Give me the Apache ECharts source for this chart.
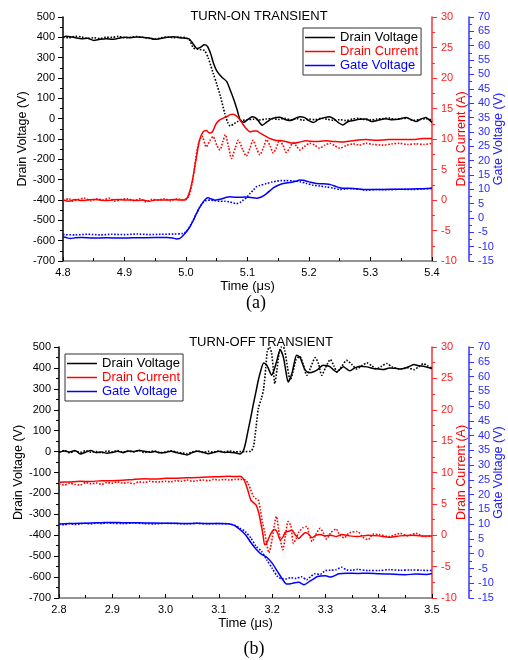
<!DOCTYPE html>
<html>
<head>
<meta charset="utf-8">
<script src="https://cdn.jsdelivr.net/npm/echarts@6/dist/echarts.min.js"></script>
<style>
html,body{margin:0;padding:0;background:#fff;}
#c{width:508px;height:660px;}
</style>
</head>
<body>
<div id="c"></div>
<script>
// ---------- (a) TURN-ON TRANSIENT data: [time (us), value] ----------
const onVdSolid = [[4.8,400],[4.805,405],[4.812,403],[4.82,398],[4.83,393],[4.84,395],[4.85,385],[4.86,390],[4.87,393],[4.88,390],[4.89,395],[4.9,400],[4.91,398],[4.92,402],[4.93,400],[4.94,397],[4.95,390],[4.96,395],[4.97,400],[4.98,403],[4.99,398],[5.0,395],[5.005,393],[5.01,375],[5.018,345],[5.024,352],[5.03,363],[5.035,355],[5.04,320],[5.045,270],[5.05,235],[5.058,205],[5.066,183],[5.072,140],[5.078,92],[5.083,45],[5.088,-5],[5.094,-18],[5.1,-5],[5.108,10],[5.115,0],[5.124,-32],[5.132,-15],[5.14,0],[5.152,7],[5.162,-5],[5.17,-9],[5.18,5],[5.186,10],[5.193,5],[5.2,-10],[5.207,-19],[5.215,-5],[5.225,5],[5.233,10],[5.24,0],[5.248,-20],[5.255,-31],[5.263,-15],[5.272,-9],[5.282,-3],[5.293,-2],[5.302,-14],[5.312,-8],[5.325,0],[5.335,-5],[5.345,-3],[5.358,6],[5.366,-5],[5.374,-14],[5.382,-2],[5.39,6],[5.395,-5],[5.4,-19]];
const onVdDot = [[4.8,400],[4.81,398],[4.82,405],[4.83,402],[4.84,395],[4.85,398],[4.86,394],[4.87,400],[4.88,400],[4.89,405],[4.9,398],[4.91,401],[4.92,404],[4.93,400],[4.94,395],[4.95,392],[4.96,398],[4.97,402],[4.98,398],[4.99,400],[5.0,398],[5.006,385],[5.012,348],[5.022,340],[5.03,335],[5.036,300],[5.044,225],[5.05,170],[5.056,110],[5.063,26],[5.068,-20],[5.072,-36],[5.078,-25],[5.084,-14],[5.092,-8],[5.1,-5],[5.11,-3],[5.12,-6],[5.13,-2],[5.14,0],[5.15,-4],[5.16,2],[5.17,-6],[5.18,0],[5.19,-8],[5.2,-2],[5.21,-5],[5.22,2],[5.23,-3],[5.24,-8],[5.25,-5],[5.26,-9],[5.27,-2],[5.28,2],[5.29,-4],[5.3,-6],[5.31,-2],[5.32,0],[5.33,3],[5.34,-3],[5.35,0],[5.36,2],[5.37,-8],[5.38,-4],[5.39,0],[5.4,-6]];
const onIdSolid = [[4.8,0],[4.81,-0.2],[4.82,0.1],[4.83,-0.1],[4.84,0],[4.85,0.1],[4.86,0],[4.87,-0.1],[4.88,0],[4.89,0.1],[4.9,0],[4.91,0],[4.92,-0.1],[4.93,0],[4.94,-0.2],[4.95,0],[4.96,0],[4.97,0],[4.98,0.1],[4.99,0],[4.998,0],[5.004,0.8],[5.01,3],[5.016,6.5],[5.022,9.8],[5.028,11.2],[5.033,11.4],[5.038,11],[5.043,11.2],[5.049,12.5],[5.056,13.2],[5.065,13.6],[5.072,14],[5.077,14.05],[5.084,13.6],[5.09,12.8],[5.097,11.8],[5.104,11.2],[5.11,11.3],[5.115,11.3],[5.12,11],[5.127,10.6],[5.136,10.1],[5.145,9.8],[5.155,9.7],[5.165,9.5],[5.174,9.3],[5.185,9.5],[5.195,9.7],[5.21,9.6],[5.228,9.7],[5.24,9.6],[5.255,9.5],[5.27,9.7],[5.293,9.9],[5.31,9.8],[5.33,9.9],[5.347,9.9],[5.37,9.9],[5.385,10.1],[5.4,10.1]];
const onIdDot = [[4.8,0],[4.81,0.2],[4.815,-0.2],[4.825,0.1],[4.835,0.3],[4.845,-0.1],[4.855,0.2],[4.865,0],[4.875,0.3],[4.885,-0.2],[4.895,0.1],[4.905,0.2],[4.915,-0.1],[4.925,0.2],[4.935,-0.3],[4.945,0.1],[4.955,0],[4.965,0.2],[4.975,-0.1],[4.985,0.2],[4.995,0],[5.004,0.5],[5.011,3.3],[5.019,8.7],[5.026,10.5],[5.033,8.7],[5.039,9.8],[5.044,10.4],[5.05,9],[5.055,8.2],[5.06,9.6],[5.064,10.7],[5.069,8.8],[5.074,6.8],[5.08,8.5],[5.085,9.8],[5.092,8.3],[5.098,7.2],[5.104,8.5],[5.109,9.8],[5.115,8.4],[5.12,7.4],[5.126,8.6],[5.131,9.9],[5.137,8.8],[5.142,7.7],[5.147,8.6],[5.152,9.8],[5.158,8.9],[5.163,7.8],[5.169,8.6],[5.174,9.4],[5.18,8.8],[5.185,8.2],[5.193,8.8],[5.201,9.3],[5.209,9],[5.217,8.5],[5.226,9],[5.234,9.3],[5.242,8.9],[5.25,8.5],[5.26,8.9],[5.272,9.2],[5.282,9],[5.293,9.3],[5.305,9.1],[5.32,9],[5.335,9.2],[5.347,9.3],[5.36,9.1],[5.374,9.2],[5.387,9.1],[5.4,9.3]];
const onVgSolid = [[4.8,-6.6],[4.805,-6.8],[4.812,-7.2],[4.82,-6.9],[4.83,-6.8],[4.85,-7],[4.87,-6.9],[4.9,-7],[4.92,-6.9],[4.95,-6.8],[4.97,-6.8],[4.978,-7],[4.985,-7.3],[4.99,-7.1],[4.995,-6.2],[5.0,-5],[5.006,-3.2],[5.012,-0.8],[5.017,1.5],[5.022,3.6],[5.028,5.6],[5.032,6.6],[5.036,7],[5.041,6.6],[5.047,6.2],[5.053,6.4],[5.06,6.8],[5.066,7.2],[5.071,7.4],[5.08,7.2],[5.087,7.2],[5.095,7.3],[5.102,7.2],[5.109,7],[5.115,6.9],[5.12,7.1],[5.125,7.6],[5.131,8.5],[5.137,9.6],[5.142,10.5],[5.15,11.4],[5.158,12],[5.166,12.3],[5.174,12.5],[5.18,12.9],[5.185,13.2],[5.19,13.1],[5.195,12.9],[5.203,12.4],[5.212,12],[5.22,11.9],[5.228,11.8],[5.235,11.6],[5.242,11.1],[5.25,10.5],[5.258,10.3],[5.266,10.3],[5.28,10.1],[5.293,9.9],[5.31,9.9],[5.33,10],[5.347,10],[5.37,10.1],[5.385,10.2],[5.4,10.3]];
const onVgDot = [[4.8,-5.8],[4.82,-5.9],[4.84,-5.7],[4.86,-5.9],[4.88,-5.7],[4.9,-5.8],[4.92,-5.6],[4.94,-5.8],[4.96,-5.7],[4.98,-5.6],[4.995,-5.4],[5.0,-4.8],[5.006,-3],[5.012,-0.6],[5.017,1.5],[5.022,3.6],[5.028,5.4],[5.033,6.1],[5.04,6.2],[5.048,6],[5.055,5.8],[5.063,5.8],[5.071,5.6],[5.077,5.2],[5.082,5],[5.088,5.4],[5.093,6.2],[5.099,7.2],[5.104,8.5],[5.11,9.8],[5.114,10.8],[5.12,11.3],[5.131,12],[5.14,12.5],[5.147,12.8],[5.155,13],[5.163,13],[5.174,12.9],[5.185,12.6],[5.195,12.1],[5.207,11.4],[5.218,11.1],[5.228,10.8],[5.24,10.4],[5.25,9.9],[5.26,10.1],[5.272,10.2],[5.285,9.9],[5.293,9.7],[5.31,9.9],[5.33,9.8],[5.347,10],[5.37,9.9],[5.385,10.1],[5.4,10.3]];

// ---------- (b) TURN-OFF TRANSIENT data ----------
const offVdSolid = [[2.8,-4],[2.81,3],[2.82,-2],[2.83,5],[2.84,-11],[2.85,-3],[2.86,5],[2.87,-5],[2.88,-2],[2.89,-8],[2.9,-4],[2.91,2],[2.92,-5],[2.93,3],[2.94,0],[2.95,5],[2.96,2],[2.97,-3],[2.98,0],[2.99,-6],[3.0,-4],[3.01,2],[3.02,-5],[3.03,-10],[3.04,-16],[3.05,-5],[3.06,2],[3.07,-3],[3.08,-10],[3.09,-5],[3.1,2],[3.11,-4],[3.12,-3],[3.13,-6],[3.14,-11],[3.146,5],[3.15,40],[3.155,103],[3.16,165],[3.165,230],[3.17,290],[3.174,341],[3.179,390],[3.184,424],[3.19,413],[3.195,385],[3.199,365],[3.204,392],[3.209,436],[3.215,487],[3.221,452],[3.226,380],[3.23,333],[3.237,372],[3.242,430],[3.246,460],[3.252,452],[3.257,420],[3.262,389],[3.271,377],[3.278,382],[3.284,389],[3.296,413],[3.303,410],[3.309,405],[3.315,390],[3.321,381],[3.328,395],[3.334,405],[3.34,395],[3.346,386],[3.355,400],[3.365,408],[3.378,405],[3.39,397],[3.4,395],[3.409,392],[3.42,400],[3.43,398],[3.44,395],[3.45,400],[3.46,410],[3.466,416],[3.475,410],[3.484,408],[3.49,404],[3.5,397]];
const offVdDot = [[2.8,-2],[2.81,5],[2.82,-6],[2.83,2],[2.84,-4],[2.85,4],[2.86,-3],[2.87,0],[2.88,-6],[2.89,3],[2.9,-1],[2.91,5],[2.92,-3],[2.93,2],[2.94,-2],[2.95,6],[2.96,-4],[2.97,0],[2.98,3],[2.99,-5],[3.0,-1],[3.01,4],[3.02,-2],[3.03,-6],[3.04,-10],[3.05,-2],[3.06,3],[3.07,-4],[3.08,1],[3.09,-3],[3.1,2],[3.11,-2],[3.12,3],[3.13,-1],[3.14,0],[3.15,0],[3.16,2],[3.165,24],[3.17,120],[3.174,205],[3.18,255],[3.184,300],[3.188,400],[3.191,480],[3.195,500],[3.199,470],[3.202,400],[3.205,325],[3.209,390],[3.213,470],[3.217,500],[3.221,500],[3.224,480],[3.229,400],[3.234,341],[3.239,380],[3.245,440],[3.252,455],[3.258,420],[3.265,365],[3.272,400],[3.281,449],[3.287,420],[3.293,365],[3.3,400],[3.309,440],[3.316,410],[3.322,380],[3.33,405],[3.34,436],[3.35,415],[3.359,395],[3.368,410],[3.378,424],[3.387,410],[3.396,395],[3.405,408],[3.415,421],[3.425,405],[3.44,395],[3.455,400],[3.466,392],[3.475,405],[3.484,420],[3.492,410],[3.5,397]];
const offIdSolid = [[2.8,8.44],[2.82,8.5],[2.84,8.6],[2.86,8.55],[2.88,8.7],[2.9,8.7],[2.92,8.75],[2.94,8.9],[2.96,9],[2.98,8.95],[3.0,9.07],[3.02,9.1],[3.04,9.15],[3.06,9.2],[3.08,9.3],[3.1,9.33],[3.12,9.4],[3.13,9.35],[3.14,9.4],[3.145,9.1],[3.15,8.3],[3.155,7],[3.16,5.6],[3.165,5.2],[3.17,4.8],[3.175,3.5],[3.18,1.4],[3.183,0],[3.186,-1.5],[3.19,-1.2],[3.195,-0.2],[3.2,0.6],[3.205,0.9],[3.21,0.4],[3.215,-0.7],[3.22,-0.3],[3.225,0.5],[3.23,0.6],[3.237,0.8],[3.244,0],[3.25,-0.5],[3.256,0],[3.262,0.4],[3.268,0.2],[3.275,-0.4],[3.282,0],[3.29,0.1],[3.3,-0.1],[3.31,0],[3.32,-0.2],[3.33,0.1],[3.345,-0.1],[3.36,-0.2],[3.38,0],[3.4,-0.1],[3.42,-0.3],[3.44,-0.1],[3.46,0],[3.48,-0.1],[3.5,-0.1]];
const offIdDot = [[2.8,8.2],[2.81,8.0],[2.82,8.3],[2.83,8.1],[2.84,8.0],[2.85,8.4],[2.86,8.2],[2.87,8.3],[2.88,8.1],[2.89,8.4],[2.9,8.3],[2.91,8.5],[2.92,8.3],[2.93,8.4],[2.94,8.2],[2.95,8.5],[2.96,8.4],[2.97,8.6],[2.98,8.5],[2.99,8.5],[3.0,8.6],[3.01,8.5],[3.02,8.7],[3.03,8.6],[3.04,8.8],[3.05,8.6],[3.06,8.7],[3.07,8.8],[3.08,8.7],[3.09,8.9],[3.1,8.8],[3.11,8.9],[3.12,8.8],[3.13,8.9],[3.14,8.9],[3.15,8.8],[3.155,8.2],[3.16,7.2],[3.165,6.2],[3.17,5.8],[3.174,5.6],[3.178,4],[3.182,2],[3.186,0.5],[3.19,-1.5],[3.194,-2.8],[3.198,-1.5],[3.202,0.5],[3.206,2.5],[3.208,3],[3.212,1],[3.216,-1],[3.22,-2.3],[3.225,0],[3.23,2.2],[3.235,1.5],[3.24,-1.3],[3.245,-0.5],[3.25,0.5],[3.258,1.2],[3.265,1.4],[3.27,0],[3.275,-1],[3.283,0.3],[3.29,1.1],[3.297,0.2],[3.302,-0.6],[3.31,0.4],[3.32,1],[3.327,0],[3.335,-0.4],[3.345,0.4],[3.36,0.6],[3.37,-0.3],[3.38,-0.7],[3.39,0.2],[3.4,0.1],[3.42,-0.2],[3.44,0.3],[3.455,-0.1],[3.47,0.3],[3.485,-0.2],[3.5,-0.1]];
const offVgSolid = [[2.8,10.1],[2.82,10.2],[2.84,10.3],[2.86,10.4],[2.88,10.5],[2.9,10.6],[2.92,10.5],[2.94,10.5],[2.96,10.4],[2.98,10.4],[3.0,10.3],[3.02,10.3],[3.04,10.2],[3.06,10.3],[3.08,10.2],[3.1,10.2],[3.12,10.1],[3.13,9.5],[3.14,8.1],[3.15,6.4],[3.16,3.8],[3.17,1.5],[3.18,-0.2],[3.19,-1.2],[3.2,-3.2],[3.21,-6],[3.22,-8.8],[3.227,-10.3],[3.235,-10.2],[3.24,-9.9],[3.25,-9.7],[3.26,-10.5],[3.27,-9.4],[3.278,-8.5],[3.285,-7.7],[3.3,-7.5],[3.31,-7.9],[3.318,-7.4],[3.325,-6.8],[3.34,-6.6],[3.36,-6.7],[3.38,-6.6],[3.4,-6.8],[3.42,-6.9],[3.45,-7.1],[3.47,-6.9],[3.49,-7],[3.5,-6.7]];
const offVgDot = [[2.8,10],[2.81,9.8],[2.82,10.2],[2.83,9.9],[2.84,10.1],[2.85,10.3],[2.86,10.1],[2.87,10.4],[2.88,10.2],[2.89,10.4],[2.9,10.3],[2.92,10.2],[2.94,10.4],[2.96,10.2],[2.98,10.1],[3.0,10.3],[3.02,10.2],[3.04,10.1],[3.06,10.3],[3.08,10.1],[3.1,10.2],[3.12,10.1],[3.13,9.6],[3.14,8.6],[3.15,7.4],[3.16,5.3],[3.17,2.5],[3.18,0.8],[3.19,-2.1],[3.2,-4.9],[3.21,-7.7],[3.218,-8.5],[3.225,-8.6],[3.235,-8.1],[3.245,-8.4],[3.255,-7.8],[3.265,-8.8],[3.272,-7.8],[3.28,-6.8],[3.29,-7],[3.3,-5.7],[3.31,-5.6],[3.32,-5.4],[3.33,-4.6],[3.34,-5.5],[3.35,-5.6],[3.36,-5.3],[3.38,-5.7],[3.4,-5.7],[3.42,-5.4],[3.44,-5.6],[3.46,-5.5],[3.48,-5.6],[3.5,-5.7]];

// ---------- labels ----------
const titles = ['TURN-ON TRANSIENT', 'TURN-OFF TRANSIENT'];
const panelLabels = ['(a)', '(b)'];
const seriesNames = ['Drain Voltage', 'Drain Current', 'Gate Voltage'];
const xName = 'Time (\u03bcs)';
const yNames = ['Drain Voltage (V)', 'Drain Current (A)', 'Gate Voltage (V)'];
const xRanges = [[4.8, 5.4], [2.8, 3.5]];
const vdRange = [-700, 500, 100];
const idRange = [-10, 30, 5];
const vgRange = [-15, 70, 5];

const FONT = 'Liberation Sans, Arial, sans-serif';
const BLACK = '#000000', RED = '#ff0000', BLUE = '#0000ff';
const grids = [
  {left: 63, top: 17, width: 369, height: 244, containLabel: false, outerBoundsMode: 'none'},
  {left: 59, top: 347, width: 373, height: 251, containLabel: false, outerBoundsMode: 'none'}
];

const chart = echarts.init(document.getElementById('c'), null, {renderer: 'canvas'});

function xAxis(i) {
  return {
    type: 'value', gridIndex: i, min: xRanges[i][0], max: xRanges[i][1], interval: 0.1,
    name: xName, nameLocation: 'middle', nameGap: 19, nameMoveOverlap: false,
    nameTextStyle: {fontFamily: FONT, fontSize: 13, color: '#000'},
    axisLine: {show: true, onZero: false, lineStyle: {color: '#707070', width: 1.5}},
    axisTick: {show: true, inside: true, length: 4, lineStyle: {color: '#000'}},
    minorTick: {show: true, splitNumber: 2, length: 3, lineStyle: {color: '#000'}},
    axisLabel: {fontFamily: FONT, fontSize: 11, color: '#000', margin: 6, formatter: v => v.toFixed(1)},
    splitLine: {show: false}
  };
}
function yAxes(i) {
  const base = {
    type: 'value', gridIndex: i, nameLocation: 'middle', nameMoveOverlap: false, splitLine: {show: false},
  };
  return [
    Object.assign({}, base, {
      position: 'left', min: vdRange[0], max: vdRange[1], interval: vdRange[2],
      name: yNames[0], nameGap: 34,
      nameTextStyle: {fontFamily: FONT, fontSize: 12.5, color: '#000'},
      axisLine: {show: true, onZero: false, lineStyle: {color: '#000', width: 1.5}},
      axisTick: {show: true, length: 5, lineStyle: {color: '#000'}},
      minorTick: {show: true, splitNumber: 2, length: 3, lineStyle: {color: '#000'}},
      axisLabel: {fontFamily: FONT, fontSize: 11, color: '#000', margin: 8}
    }),
    Object.assign({}, base, {
      position: 'right', min: idRange[0], max: idRange[1], interval: idRange[2],
      name: yNames[1], nameGap: 23,
      nameTextStyle: {fontFamily: FONT, fontSize: 12.5, color: RED},
      axisLine: {show: true, onZero: false, lineStyle: {color: '#ff3030', width: 1.5}},
      axisTick: {show: true, length: 5, lineStyle: {color: '#ff3030'}},
      minorTick: {show: true, splitNumber: 2, length: 3, lineStyle: {color: '#ff3030'}},
      axisLabel: {fontFamily: FONT, fontSize: 11, color: '#ff2020', margin: 9}
    }),
    Object.assign({}, base, {
      position: 'right', offset: 37, min: vgRange[0], max: vgRange[1], interval: vgRange[2],
      name: yNames[2], nameGap: 23,
      nameTextStyle: {fontFamily: FONT, fontSize: 12.5, color: '#2020ff'},
      axisLine: {show: true, onZero: false, lineStyle: {color: '#3535ff', width: 1.5}},
      axisTick: {show: true, length: 5, lineStyle: {color: '#3535ff'}},
      minorTick: {show: true, splitNumber: 2, length: 3, lineStyle: {color: '#3535ff'}},
      axisLabel: {fontFamily: FONT, fontSize: 11, color: '#2a2aff', margin: 9}
    })
  ];
}
function line(name, data, gi, yi, color, dotted) {
  return {
    type: 'line', name: name, xAxisIndex: gi, yAxisIndex: gi * 3 + yi, data: data,
    showSymbol: false, symbol: 'none', smooth: 0.25, animation: false,
    lineStyle: {color: color, width: dotted ? 1.6 : 1.5, type: dotted ? 'dotted' : 'solid'},
    itemStyle: {color: color}, z: dotted ? 2 : 3, clip: true
  };
}
const legendColors = [BLACK, RED, BLUE];
function legend(i, pos) {
  return Object.assign({
    orient: 'vertical', data: seriesNames.map((n, k) => ({name: n, textStyle: {color: legendColors[k]}})),
    icon: 'rect', itemWidth: 30, itemHeight: 1.5, itemGap: 1,
    textStyle: {fontFamily: FONT, fontSize: 13, padding: [1, 0, 0, 0]},
    borderColor: '#333', borderWidth: 1, padding: [3, 3, 3, 2], backgroundColor: '#fff',
    selectedMode: false
  }, pos);
}

const option = {
  backgroundColor: '#fff',
  animation: false,
  title: [
    {text: titles[0], left: 254, top: 5, textAlign: 'center', textStyle: {fontFamily: FONT, fontSize: 13, fontWeight: 'normal', color: '#000'}},
    {text: titles[1], left: 256, top: 331, textAlign: 'center', textStyle: {fontFamily: FONT, fontSize: 13, fontWeight: 'normal', color: '#000'}},
    {text: panelLabels[0], left: 251, top: 289, textAlign: 'center', textStyle: {fontFamily: 'Liberation Serif, Times New Roman, serif', fontSize: 18, fontWeight: 'normal', color: '#000'}},
    {text: panelLabels[1], left: 249, top: 635, textAlign: 'center', textStyle: {fontFamily: 'Liberation Serif, Times New Roman, serif', fontSize: 18, fontWeight: 'normal', color: '#000'}}
  ],
  grid: grids,
  legend: [legend(0, {left: 303, top: 28}), legend(1, {left: 65, top: 354})],
  xAxis: [xAxis(0), xAxis(1)],
  yAxis: yAxes(0).concat(yAxes(1)),
  series: [
    line(seriesNames[0] + ' ', onVdDot, 0, 0, BLACK, true),
    line(seriesNames[1] + ' ', onIdDot, 0, 1, RED, true),
    line(seriesNames[2] + ' ', onVgDot, 0, 2, BLUE, true),
    line(seriesNames[0], onVdSolid, 0, 0, BLACK, false),
    line(seriesNames[1], onIdSolid, 0, 1, RED, false),
    line(seriesNames[2], onVgSolid, 0, 2, BLUE, false),
    line(seriesNames[0] + ' ', offVdDot, 1, 0, BLACK, true),
    line(seriesNames[1] + ' ', offIdDot, 1, 1, RED, true),
    line(seriesNames[2] + ' ', offVgDot, 1, 2, BLUE, true),
    line(seriesNames[0], offVdSolid, 1, 0, BLACK, false),
    line(seriesNames[1], offIdSolid, 1, 1, RED, false),
    line(seriesNames[2], offVgSolid, 1, 2, BLUE, false)
  ]
};
chart.setOption(option);
</script>
</body>
</html>
